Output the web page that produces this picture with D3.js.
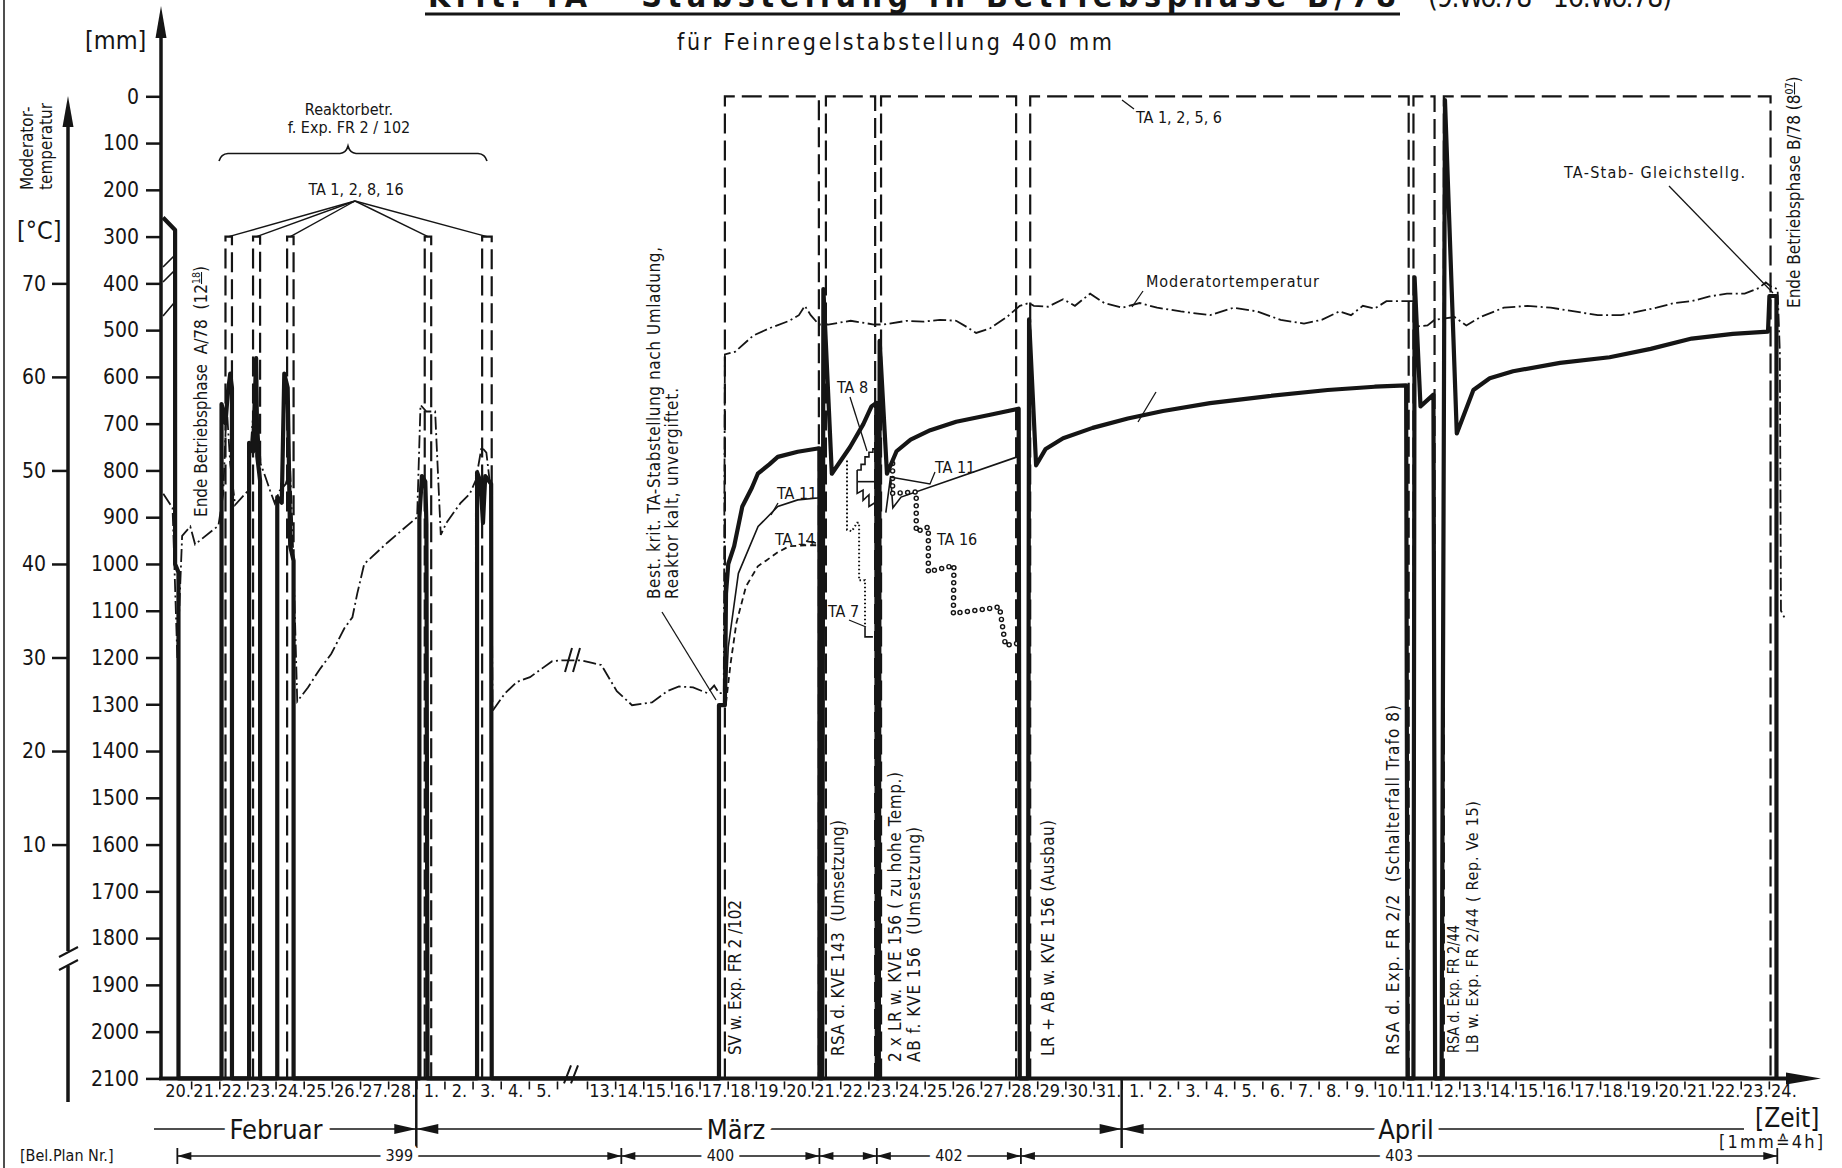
<!DOCTYPE html>
<html>
<head>
<meta charset="utf-8">
<script src="https://cdn.jsdelivr.net/npm/d3@7"></script>
<style>
  body { margin: 0; background: #fff; }
  svg text { font-family: "DejaVu Sans Condensed", "DejaVu Sans", sans-serif; font-stretch: condensed; fill: #151515; white-space: pre; }
</style>
</head>
<body>
<div></div>
<script>
const width = 1842;
const height = 1168;

// x-Werte: Tage ab 20. Feb. 0 Uhr (13. März = Tag 21, 1. April = Tag 40), y-Werte: mm bzw. °C
const mmTicks = [0, 100, 200, 300, 400, 500, 600, 700, 800, 900, 1000, 1100, 1200, 1300, 1400, 1500, 1600, 1700, 1800, 1900, 2000, 2100];
const tempTicks = [70, 60, 50, 40, 30, 20, 10];
const febDays = [20, 21, 22, 23, 24, 25, 26, 27, 28];
const marDays = [1, 2, 3, 4, 5, 13, 14, 15, 16, 17, 18, 19, 20, 21, 22, 23, 24, 25, 26, 27, 28, 29, 30, 31];
const aprDays = [1, 2, 3, 4, 5, 6, 7, 8, 9, 10, 11, 12, 13, 14, 15, 16, 17, 18, 19, 20, 21, 22, 23, 24];

// kritische Stabstellung (dicke Linie)
const kritStab = [
  [0, 259], [0.43, 286], [0.43, 1000], [0.55, 1018], [0.55, 2100],
  [2.08, 2100], [2.08, 658], [2.22, 699], [2.3, 636], [2.39, 593], [2.45, 623], [2.45, 2100],
  [3.06, 2100], [3.06, 741], [3.2, 760], [3.31, 560], [3.35, 770], [3.45, 822], [3.45, 2100],
  [4.06, 2100], [4.06, 857], [4.22, 869], [4.31, 593], [4.43, 623], [4.52, 962], [4.64, 993], [4.64, 2100],
  [9.11, 2100], [9.11, 900], [9.2, 812], [9.32, 824], [9.36, 915], [9.4, 2100],
  [11.16, 2100], [11.16, 804], [11.28, 824], [11.37, 912], [11.45, 812], [11.66, 829], [11.68, 2100],
  [25.69, 2100], [25.69, 1302], [25.9, 1302], [25.94, 1063], [26.02, 1000], [26.23, 962], [26.52, 877],
  [26.86, 837], [27.07, 807], [27.48, 787], [27.78, 771], [28.49, 760], [29.2, 753], [29.26, 753], [29.26, 2100],
  [29.36, 2100], [29.4, 412], [29.7, 807], [30.35, 750], [30.82, 701], [31.11, 663], [31.28, 656], [31.3, 2100],
  [31.37, 2100], [31.4, 523], [31.66, 807], [32, 759], [32.5, 734], [33.2, 714], [34.12, 696], [35.33, 681], [36.34, 668], [36.38, 2100],
  [36.67, 2100], [36.71, 477], [36.96, 789], [37.3, 754], [37.92, 731], [38.97, 709], [40.22, 689], [41.47, 673],
  [43.14, 656], [45.23, 641], [47.32, 628], [48.99, 621], [50.11, 618], [50.16, 2100],
  [50.37, 2100], [50.41, 387], [50.62, 663], [51.08, 638], [51.14, 2100],
  [51.37, 2100], [51.49, 8], [51.91, 721], [52.5, 628], [53.08, 603], [53.91, 588], [55.58, 570], [57.34, 558],
  [58.8, 540], [60.26, 518], [61.72, 508], [62.97, 503], [63.02, 427], [63.27, 427], [63.27, 2100]
];

// TA-Staebe (gestrichelt): [Beginn, Ende, Stellung mm]
const taPhasen = [
  [2.22, 2.45, 300], [3.2, 3.45, 300], [4.41, 4.64, 300], [9.3, 9.53, 300], [11.34, 11.68, 300],
  [25.9, 29.24, 0], [29.49, 31.24, 0], [31.45, 36.25, 0], [36.75, 50.2, 0], [50.37, 51.12, 0], [51.45, 63.06, 0]
];

// Moderatortemperatur in °C
const moderatorTemp = [
  [0.01, 47.5], [0.34, 46.0], [0.51, 29.9], [0.68, 43.0], [0.97, 44.0], [1.14, 42.1], [1.97, 44.1], [2.14, 47.5],
  [2.26, 57.0], [2.39, 50.7], [2.56, 46.3], [3.01, 47.8], [3.18, 55.1], [3.31, 58.2], [3.47, 50.7], [3.64, 49.3],
  [3.81, 47.8], [3.97, 46.5], [4.14, 47.8], [4.35, 48.5], [4.52, 50.0], [4.6, 43.8], [4.77, 25.3], [5.15, 26.8],
  [5.56, 28.7], [5.98, 30.4], [6.44, 33.1], [6.73, 34.3], [6.9, 36.8], [7.15, 40.0], [7.98, 42.3], [9.03, 45.0],
  [9.15, 57.0], [9.36, 56.3], [9.67, 56.3], [9.87, 43.1], [10.07, 44.4], [10.57, 46.5], [10.9, 47.5], [11.12, 49.0],
  [11.32, 52.5], [11.49, 51.9], [11.66, 47.5], [11.71, 24.3], [12.16, 26.2], [12.58, 27.4], [13.04, 27.9], [13.41, 28.7],
  [13.83, 29.6], [15.09, 29.7], [19.72, 29.7], [21.22, 29.4], [21.51, 29.2], [22.06, 26.4], [22.6, 24.9], [23.31, 25.2],
  [23.85, 26.4], [24.27, 26.9], [24.77, 26.8], [25.27, 26.2], [25.52, 27.0], [25.69, 26.2], [25.86, 26.2], [25.9, 62.4],
  [26.27, 62.7], [26.9, 64.4], [27.48, 65.2], [28.19, 66.0], [28.53, 66.6], [28.74, 67.6], [28.95, 66.6], [29.24, 65.6],
  [29.57, 65.6], [30.37, 66.0], [31.2, 65.6], [31.53, 65.6], [32.37, 66.0], [32.95, 65.9], [33.54, 66.1], [34.12, 66.0],
  [34.46, 65.4], [34.83, 64.7], [35.33, 65.2], [35.92, 66.4], [36.38, 67.6], [36.71, 67.9], [36.88, 67.6], [37.38, 67.5],
  [37.92, 68.3], [38.34, 67.6], [38.88, 68.9], [39.38, 67.9], [40.01, 67.4], [40.64, 67.9], [41.26, 67.4], [42.1, 67.0],
  [43.14, 66.6], [43.98, 67.4], [44.81, 67.0], [45.65, 66.1], [46.48, 65.7], [47.11, 66.1], [47.74, 67.0], [48.15, 66.6],
  [48.57, 67.6], [48.99, 67.3], [49.41, 68.1], [50.24, 68.1], [50.37, 68.1], [50.49, 65.4], [50.87, 65.5], [51.12, 66.1],
  [51.83, 66.4], [52.25, 65.5], [52.75, 66.4], [53.58, 67.4], [54.42, 67.6], [55.25, 67.4], [56.09, 67.0], [56.92, 66.6],
  [57.75, 66.6], [58.38, 67.0], [59.01, 67.4], [59.63, 67.9], [60.26, 68.1], [60.89, 68.6], [61.51, 68.9], [62.14, 68.9],
  [62.64, 69.5], [62.89, 70.1], [63.1, 69.6], [63.31, 69.4], [63.39, 62.6], [63.43, 35.0], [63.6, 34.0]
];

const ta11 = [
  [[25.94, 1277], [26.02, 1178], [26.38, 1020], [27.08, 920], [27.78, 877], [28.49, 863], [29.2, 859], [29.24, 859]],
  [[30.62, 824], [31.37, 824]],
  [[31.62, 890], [31.79, 812], [31.87, 880], [32.16, 857], [36.29, 771]]
];
const ta14 = [[25.94, 1297], [26.1, 1214], [26.31, 1126], [26.65, 1048], [27.07, 1005], [27.36, 993], [27.78, 975], [28.19, 962], [28.74, 960], [29.2, 960]];
const ta7 = [[30.24, 779], [30.24, 927], [30.41, 930], [30.6, 912], [30.67, 912], [30.67, 1035], [30.88, 1035], [30.88, 1136]];
const ta7Ende = [[30.88, 1136], [30.88, 1156], [31.16, 1156]];
const ta8 = [[30.6, 799], [30.74, 799], [30.74, 787], [30.88, 787], [30.88, 771], [31.02, 771], [31.02, 761], [31.16, 761], [31.16, 754], [31.29, 754]];
const ta8Zack = [[30.6, 799], [30.6, 849], [30.81, 842], [30.81, 864], [31.02, 852], [31.02, 877], [31.23, 869]];
const ta16 = [[31.86, 785], [31.86, 849], [32.7, 846], [32.7, 931], [33.13, 921], [33.13, 1017], [34.04, 1003], [34.02, 1106], [35.66, 1092], [35.87, 1174], [36.29, 1170]];

const belPlanGrenzen = [0.51, 22.22, 29.26, 31.3, 36.42, 63.3];
const belPlanNr = ['399', '400', '', '402', '403'];

// ---------------------------------------------------------------
const svg = d3.select('div').append('svg')
  .attr('width', width).attr('height', height)
  .style('background', '#fff');

const x = d3.scaleLinear().domain([0, 14, 21, 64]).range([163, 557, 587, 1797]);
const y = d3.scaleLinear().domain([0, 2100]).range([96.3, 1078.4]);
const yT = d3.scaleLinear().domain([70, 10]).range([y(400), y(1600)]);

const line = d3.line().x(d => x(d[0])).y(d => y(d[1]));
const tline = d3.line().x(d => x(d[0])).y(d => yT(d[1]));
const ink = '#151515';

// Seitenrand links
svg.append('line').attr('x1', 4).attr('x2', 4).attr('y1', 0).attr('y2', height).attr('stroke', ink).attr('stroke-width', 1.5);

// ---- Titel (oben abgeschnitten wie im Original) ----
svg.append('text').attr('x', 428).attr('y', 7).attr('font-size', 32).attr('font-weight', 'bold')
  .attr('textLength', 968).attr('lengthAdjust', 'spacing')
  .text('Krit. TA - Stabstellung in Betriebsphase B/78');
svg.append('line').attr('x1', 425).attr('x2', 1400).attr('y1', 14).attr('y2', 14).attr('stroke', ink).attr('stroke-width', 3);
svg.append('text').attr('x', 1428).attr('y', 7).attr('font-size', 28)
  .attr('textLength', 244).attr('lengthAdjust', 'spacing').text('(9.Wo.78 - 16.Wo.78)');
svg.append('text').attr('x', 677).attr('y', 50).attr('font-size', 23)
  .attr('textLength', 435).attr('lengthAdjust', 'spacing').text('für Feinregelstabstellung 400 mm');

// ---- mm-Achse ----
const axisMm = svg.append('g').attr('transform', 'translate(161,0)')
  .call(d3.axisLeft(y).tickValues(mmTicks).tickSize(15).tickPadding(7).tickFormat(d3.format('d')));
axisMm.select('.domain').remove();
axisMm.selectAll('.tick line').attr('stroke', ink).attr('stroke-width', 2.5);
axisMm.selectAll('.tick text').attr('font-size', 21).attr('font-family', null).attr('fill', ink);
svg.append('line').attr('x1', 161).attr('x2', 161).attr('y1', 30).attr('y2', y(2100)).attr('stroke', ink).attr('stroke-width', 3.5);
svg.append('path').attr('d', 'M161,6 L155.5,38 L166.5,38 Z').attr('fill', ink);
svg.append('text').attr('x', 85).attr('y', 49).attr('font-size', 25).text('[mm]');

// ---- Temperatur-Achse ----
const axisT = svg.append('g').attr('transform', 'translate(68,0)')
  .call(d3.axisLeft(yT).tickValues(tempTicks).tickSize(16).tickPadding(6));
axisT.select('.domain').remove();
axisT.selectAll('.tick line').attr('stroke', ink).attr('stroke-width', 2.5);
axisT.selectAll('.tick text').attr('font-size', 21).attr('font-family', null).attr('fill', ink);
svg.append('line').attr('x1', 68).attr('x2', 68).attr('y1', 120).attr('y2', 951).attr('stroke', ink).attr('stroke-width', 3.5);
svg.append('line').attr('x1', 68).attr('x2', 68).attr('y1', 966).attr('y2', 1102).attr('stroke', ink).attr('stroke-width', 3.5);
svg.append('path').attr('d', 'M68,96 L62.5,127 L73.5,127 Z').attr('fill', ink);
svg.append('path').attr('d', 'M59,957 L78,947 M59,970 L78,960').attr('stroke', ink).attr('stroke-width', 2).attr('fill', 'none');
[['Moderator-', 33], ['temperatur', 52]].forEach(([t, xx]) => {
  svg.append('text').attr('transform', `translate(${xx},${190}) rotate(-90)`).attr('font-size', 17).text(t);
});
svg.append('text').attr('x', 17).attr('y', 239).attr('font-size', 25).text('[°C]');

// ---- Zeitachse ----
const xAxisY = y(2100);
svg.append('line').attr('x1', 159).attr('x2', 1790).attr('y1', xAxisY).attr('y2', xAxisY).attr('stroke', ink).attr('stroke-width', 4);
svg.append('path').attr('d', `M1821,${xAxisY} L1786,${xAxisY - 6} L1786,${xAxisY + 6} Z`).attr('fill', ink);

const dayLabels = [];
febDays.forEach(d => dayLabels.push({ d: d - 20, t: d + '.' }));
marDays.forEach(d => dayLabels.push({ d: d + 8, t: d + '.' }));
aprDays.forEach(d => dayLabels.push({ d: d + 39, t: d + '.' }));

const xTicks = svg.append('g').attr('transform', `translate(0,${xAxisY + 3})`)
  .call(d3.axisBottom(x).tickValues(dayLabels.map(l => l.d).filter(d => d > 0).concat([14])).tickSize(8).tickFormat(''));
xTicks.select('.domain').remove();
xTicks.selectAll('.tick line').attr('stroke', ink).attr('stroke-width', 1.6);

svg.append('g').selectAll('text').data(dayLabels).enter().append('text')
  .attr('x', d => x(d.d + 0.5) + 1).attr('y', xAxisY + 19)
  .attr('text-anchor', 'middle').attr('font-size', 18)
  .text(d => d.t);

// Achsenbruch
svg.append('path').attr('d', `M564,${xAxisY + 5} L571,${xAxisY - 13} M571,${xAxisY + 5} L578,${xAxisY - 13}`)
  .attr('stroke', ink).attr('stroke-width', 2).attr('fill', 'none');

// Monatszeile
const monthY = 1129;
svg.append('path').attr('d', `M154,${monthY} H1744`).attr('stroke', ink).attr('stroke-width', 1.6);
[9, 40].forEach(d => {
  const b = x(d);
  svg.append('line').attr('x1', b).attr('x2', b).attr('y1', xAxisY).attr('y2', 1148).attr('stroke', ink).attr('stroke-width', 2.5);
  svg.append('path').attr('d', `M${b - 22},${monthY - 5} L${b},${monthY} L${b - 22},${monthY + 5} Z M${b + 22},${monthY - 5} L${b},${monthY} L${b + 22},${monthY + 5} Z`).attr('fill', ink);
});
[['Februar', 276], ['März', 736], ['April', 1406]].forEach(([t, xx]) => {
  svg.append('text').attr('x', xx).attr('y', monthY + 10).attr('text-anchor', 'middle').attr('font-size', 27)
    .attr('stroke', '#fff').attr('stroke-width', 14).attr('paint-order', 'stroke').text(t);
});
svg.append('text').attr('x', 1755).attr('y', 1127).attr('font-size', 26).text('[Zeit]');
svg.append('text').attr('x', 1719).attr('y', 1148).attr('font-size', 18).attr('textLength', 104).attr('lengthAdjust', 'spacing').text('[1mm≙4h]');

// Bel. Plan Nr.
const belY = 1156;
svg.append('text').attr('x', 20).attr('y', 1161).attr('font-size', 16).text('[Bel.Plan Nr.]');
belPlanNr.forEach((nr, i) => {
  const a = x(belPlanGrenzen[i]), b = x(belPlanGrenzen[i + 1]);
  svg.append('line').attr('x1', a).attr('x2', b).attr('y1', belY).attr('y2', belY).attr('stroke', ink).attr('stroke-width', 1.6);
  svg.append('path').attr('d', `M${a},${belY} L${a + 14},${belY - 4} L${a + 14},${belY + 4} Z M${b},${belY} L${b - 14},${belY - 4} L${b - 14},${belY + 4} Z`).attr('fill', ink);
  if (nr) {
    svg.append('text').attr('x', (a + b) / 2).attr('y', 1161).attr('text-anchor', 'middle').attr('font-size', 16)
      .attr('stroke', '#fff').attr('stroke-width', 12).attr('paint-order', 'stroke').text(nr);
  }
});
belPlanGrenzen.forEach(d => {
  svg.append('line').attr('x1', x(d)).attr('x2', x(d)).attr('y1', belY - 8).attr('y2', belY + 8).attr('stroke', ink).attr('stroke-width', 1.8);
});

// ---- Datenlinien ----
const plot = svg.append('g');

plot.selectAll('path.ta').data(taPhasen).enter().append('path')
  .attr('class', 'ta')
  .attr('d', d => line([[d[0], 2100], [d[0], d[2]], [d[1], d[2]], [d[1], 2100]]))
  .attr('fill', 'none').attr('stroke', ink).attr('stroke-width', 2.2).attr('stroke-dasharray', '20 7');

plot.append('path').attr('d', tline(moderatorTemp))
  .attr('fill', 'none').attr('stroke', ink).attr('stroke-width', 1.8).attr('stroke-dasharray', '13 3.5 2 3.5');

ta11.forEach(seg => {
  plot.append('path').attr('d', line(seg)).attr('fill', 'none').attr('stroke', ink).attr('stroke-width', 1.6);
});
plot.append('path').attr('d', line(ta14)).attr('fill', 'none').attr('stroke', ink).attr('stroke-width', 1.8).attr('stroke-dasharray', '6 4');
plot.append('path').attr('d', line(ta7)).attr('fill', 'none').attr('stroke', ink).attr('stroke-width', 2).attr('stroke-dasharray', '1.6 2.4');
plot.append('path').attr('d', line(ta7Ende)).attr('fill', 'none').attr('stroke', ink).attr('stroke-width', 1.6);
plot.append('path').attr('d', line(ta8)).attr('fill', 'none').attr('stroke', ink).attr('stroke-width', 1.6);
plot.append('path').attr('d', line(ta8Zack)).attr('fill', 'none').attr('stroke', ink).attr('stroke-width', 1.6);
plot.append('path').attr('d', line(ta16)).attr('fill', 'none').attr('stroke', ink).attr('stroke-width', 5.5)
  .attr('stroke-linecap', 'round').attr('stroke-dasharray', '0 7.5');
plot.append('path').attr('d', line(ta16)).attr('fill', 'none').attr('stroke', '#fff').attr('stroke-width', 2.6)
  .attr('stroke-linecap', 'round').attr('stroke-dasharray', '0 7.5');

plot.append('path').attr('d', line(kritStab))
  .attr('fill', 'none').attr('stroke', ink).attr('stroke-width', 4.2).attr('stroke-linejoin', 'round');

// Bruchzeichen in der Temperaturkurve
svg.append('path').attr('d', 'M565,672 L572,648 M573,672 L580,648').attr('stroke', ink).attr('stroke-width', 2).attr('fill', 'none');

// Schraffur am Anfang
svg.append('path').attr('d', 'M163,267 L174,256 M163,282 L174,271 M163,316 L174,303')
  .attr('stroke', ink).attr('stroke-width', 1.6).attr('fill', 'none');

// ---- Beschriftungen ----
const ann = svg.append('g').attr('font-size', 16);
ann.append('text').attr('x', 349).attr('y', 115).attr('text-anchor', 'middle').text('Reaktorbetr.');
ann.append('text').attr('x', 349).attr('y', 133).attr('text-anchor', 'middle').text('f. Exp. FR 2 / 102');
svg.append('path').attr('d', 'M219,161 Q221,154 228,153.5 L340,153.5 Q346,153 348,146 Q350,153 356,153.5 L478,153.5 Q485,154 487,161')
  .attr('fill', 'none').attr('stroke', ink).attr('stroke-width', 1.6);
ann.append('text').attr('x', 356).attr('y', 195).attr('text-anchor', 'middle').text('TA 1, 2, 8, 16');
taPhasen.filter(d => d[2] === 300).forEach(d => {
  svg.append('line').attr('x1', 355).attr('y1', 201).attr('x2', x((d[0] + d[1]) / 2)).attr('y2', y(300))
    .attr('stroke', ink).attr('stroke-width', 1.4);
});

ann.append('text').attr('x', 1136).attr('y', 123).text('TA 1, 2, 5, 6');
ann.append('text').attr('x', 1146).attr('y', 287).attr('textLength', 173).attr('lengthAdjust', 'spacing').text('Moderatortemperatur');
ann.append('text').attr('x', 1564).attr('y', 178).attr('textLength', 181).attr('lengthAdjust', 'spacing').text('TA-Stab- Gleichstellg.');
ann.append('text').attr('x', 837).attr('y', 393).text('TA 8');
ann.append('text').attr('x', 777).attr('y', 499).text('TA 11');
ann.append('text').attr('x', 775).attr('y', 545).text('TA 14');
ann.append('text').attr('x', 828).attr('y', 617).text('TA 7');
ann.append('text').attr('x', 935).attr('y', 473).text('TA 11');
ann.append('text').attr('x', 937).attr('y', 545).text('TA 16');

const leaders = [
  [[1122, 100], [1134, 109]],
  [[1143, 291], [1132, 307]],
  [[1669, 186], [1773, 293]],
  [[850, 397], [867, 451]],
  [[778, 503], [771, 515]],
  [[806, 541], [816, 543]],
  [[849, 620], [866, 627]],
  [[935, 472], [930, 484], [890, 477]],
  [[1138, 422], [1156, 392]],
  [[662, 612], [716, 700]]
];
leaders.forEach(p => {
  svg.append('path').attr('d', d3.line()(p)).attr('fill', 'none').attr('stroke', ink).attr('stroke-width', 1.3);
});

// senkrechte Texte
function vText(xc, yb, txt, size, len, adj) {
  const t = svg.append('text').attr('transform', `translate(${xc + size * 0.36},${yb}) rotate(-90)`)
    .attr('font-size', size).text(txt);
  if (len) t.attr('textLength', len).attr('lengthAdjust', adj || 'spacing');
  return t;
}
function vTextSup(xc, yb, txt, sup, size) {
  const t = svg.append('text').attr('transform', `translate(${xc + size * 0.36},${yb}) rotate(-90)`).attr('font-size', size);
  t.append('tspan').text(txt);
  t.append('tspan').attr('font-size', size * 0.62).attr('dy', -size * 0.42).attr('text-decoration', 'underline').text(sup);
  t.append('tspan').attr('dy', size * 0.42).text(')');
}
vTextSup(201, 517, 'Ende Betriebsphase  A/78  (12', '18', 17);
vTextSup(1794, 308, 'Ende Betriebsphase B/78 (8', '07', 17);
vText(654, 599, 'Best. krit. TA-Stabstellung nach Umladung,', 17, 352);
vText(672, 599, 'Reaktor kalt, unvergiftet.', 17, 211);
vText(735, 1055, 'SV w. Exp. FR 2 /102', 17, 155);
vText(838, 1056, 'RSA d. KVE 143  (Umsetzung)', 17, 236);
vText(895, 1062, '2 x LR w. KVE 156 ( zu hohe Temp.)', 17, 290);
vText(914, 1062, 'AB f. KVE 156  (Umsetzung)', 17, 235);
vText(1048, 1056, 'LR + AB w. KVE 156 (Ausbau)', 17, 236);
vText(1393, 1055, 'RSA d. Exp. FR 2/2  (Schalterfall Trafo 8)', 17, 350);
vText(1453, 1053, 'RSA d. Exp. FR 2/44', 16, 128, 'spacingAndGlyphs');
vText(1472, 1053, 'LB w. Exp. FR 2/44 ( Rep. Ve 15)', 16, 252);
</script>
</body>
</html>
